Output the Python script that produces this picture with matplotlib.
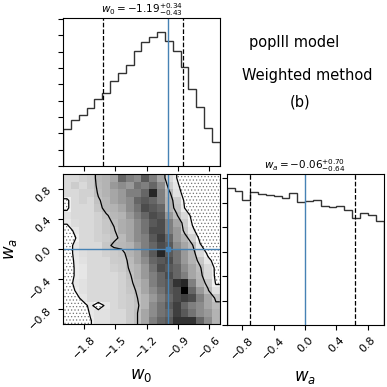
import numpy as np
import matplotlib.pyplot as plt
from matplotlib.colors import LinearSegmentedColormap
from matplotlib.ticker import MultipleLocator

plt.rcParams['hatch.color'] = '0.45'
plt.rcParams['hatch.linewidth'] = 0.5

# 参数范围和真值
w0_range = (-2.0, -0.5)
wa_range = (-1.0, 1.0)
n_bins = 20
w0_true = -1.0
wa_true = 0.0

# 一维直方图（读图估计，任意单位）
w0_hist = [114, 140, 156, 177, 205, 223, 259, 283, 310, 351,
           380, 394, 411, 381, 352, 302, 235, 181, 116, 73]
wa_hist = [414, 405, 377, 403, 396, 392, 391, 385, 400, 372,
           375, 379, 361, 358, 361, 347, 323, 338, 331, 315]

# 分位数 (16%, 84%)
w0_q = [-1.62, -0.85]
wa_q = [-0.70, 0.64]
w0_title = r'$w_0 = -1.19^{+0.34}_{-0.43}$'
wa_title = r'$w_a = -0.06^{+0.70}_{-0.64}$'

w0_ticks = [-1.8, -1.5, -1.2, -0.9, -0.6]
wa_ticks = [-0.8, -0.4, 0.0, 0.4, 0.8]

# 二维密度（行从 wa=1 到 wa=-1，列从 w0=-2 到 -0.5）
dens = np.array([
    [1.5, 1.5, 1.8, 2.0, 2.8, 3.0, 3.5, 6.0, 5.0, 4.5, 6.5, 5.0, 3.5, 1.5, 0.8, 0.2, 0.2, 0.2, 0.2, 0.2],
    [1.5, 2.0, 1.5, 2.0, 2.7, 3.0, 4.0, 4.5, 4.0, 5.5, 5.0, 6.0, 4.5, 2.0, 1.0, 0.3, 0.2, 0.2, 0.2, 0.2],
    [1.5, 1.5, 1.8, 1.8, 2.6, 3.0, 3.5, 4.0, 5.0, 5.0, 6.0, 8.5, 5.0, 2.8, 1.2, 0.5, 0.2, 0.2, 0.2, 0.2],
    [0.6, 1.5, 1.8, 1.5, 2.4, 2.8, 3.5, 4.0, 4.5, 6.0, 6.5, 6.0, 5.0, 3.0, 2.0, 0.65, 0.2, 0.2, 0.2, 0.2],
    [0.6, 1.5, 1.5, 1.5, 2.2, 2.8, 3.0, 3.5, 4.5, 5.5, 7.0, 6.5, 6.0, 3.0, 2.2, 0.8, 0.2, 0.2, 0.2, 0.2],
    [1.2, 1.5, 1.5, 1.5, 1.8, 2.4, 2.8, 3.0, 4.0, 5.0, 6.0, 7.0, 6.5, 4.0, 2.6, 1.5, 0.5, 0.2, 0.2, 0.2],
    [0.9, 1.4, 1.5, 1.5, 1.8, 2.2, 2.6, 3.2, 3.5, 4.5, 5.5, 6.5, 7.0, 5.0, 3.5, 2.0, 0.7, 0.2, 0.2, 0.2],
    [0.3, 1.0, 1.5, 1.5, 1.8, 2.2, 2.4, 3.2, 3.5, 4.5, 5.5, 7.0, 7.0, 5.0, 4.0, 2.2, 1.0, 0.3, 0.2, 0.2],
    [0.3, 0.7, 1.5, 1.5, 1.8, 2.0, 2.3, 2.7, 3.5, 4.5, 5.0, 6.5, 7.5, 6.0, 4.0, 3.0, 1.8, 0.5, 0.2, 0.2],
    [0.3, 1.0, 1.5, 1.5, 1.5, 2.2, 2.7, 2.8, 3.0, 4.0, 5.0, 6.0, 7.0, 6.5, 4.5, 3.5, 2.6, 0.9, 0.3, 0.2],
    [0.3, 1.0, 1.3, 1.5, 1.5, 1.8, 2.0, 2.2, 3.0, 3.5, 5.0, 6.5, 8.5, 6.5, 5.5, 4.0, 3.0, 1.5, 0.6, 0.3],
    [0.3, 0.9, 1.2, 1.5, 1.5, 1.5, 2.0, 2.1, 2.7, 3.5, 4.5, 6.0, 6.5, 7.0, 5.5, 4.0, 3.0, 2.2, 1.0, 0.5],
    [0.3, 0.85, 1.0, 1.5, 1.5, 1.5, 1.8, 2.0, 2.6, 3.0, 4.0, 5.5, 7.0, 6.5, 6.0, 4.5, 3.5, 2.6, 1.5, 0.6],
    [0.3, 0.85, 1.0, 1.5, 1.5, 1.5, 1.5, 1.8, 2.4, 3.0, 4.0, 5.0, 6.0, 7.0, 6.0, 5.0, 3.5, 2.8, 1.6, 0.6],
    [0.3, 1.0, 1.2, 1.5, 1.5, 1.5, 1.5, 1.8, 2.3, 2.8, 3.5, 5.0, 6.0, 6.5, 8.0, 8.5, 5.0, 3.0, 2.2, 0.7],
    [0.3, 0.8, 1.2, 1.5, 1.5, 1.5, 1.5, 1.8, 2.2, 2.6, 3.5, 4.5, 5.5, 6.5, 7.0, 10.0, 6.0, 4.0, 2.6, 1.2],
    [0.3, 0.5, 1.0, 1.5, 1.5, 1.5, 1.5, 1.8, 2.0, 2.5, 3.0, 4.0, 5.0, 6.0, 7.0, 7.5, 7.0, 5.0, 3.5, 2.3],
    [0.3, 0.3, 0.5, 1.0, 0.3, 1.0, 1.5, 1.8, 2.0, 2.4, 3.0, 4.5, 5.5, 6.5, 7.5, 6.0, 5.0, 4.5, 3.5, 2.7],
    [0.3, 0.3, 0.3, 0.9, 1.2, 1.2, 1.5, 1.5, 2.0, 2.5, 3.5, 4.5, 5.5, 6.0, 7.5, 6.5, 5.5, 4.5, 4.0, 3.0],
    [0.3, 0.3, 0.3, 0.75, 1.2, 1.2, 1.5, 1.5, 2.0, 2.5, 3.5, 5.0, 6.0, 6.5, 8.0, 8.0, 8.0, 6.0, 4.5, 3.0],
])
levels = [0.8, 2.5]

truth_color = '#4682b4'
tick_fs = 8

w0_edges = np.linspace(w0_range[0], w0_range[1], n_bins + 1)
wa_edges = np.linspace(wa_range[0], wa_range[1], n_bins + 1)

fig = plt.figure(figsize=(3.87, 3.87), dpi=100)
ax1 = fig.add_axes([0.163, 0.571, 0.405, 0.382])
ax2 = fig.add_axes([0.163, 0.162, 0.405, 0.388])
ax3 = fig.add_axes([0.586, 0.159, 0.405, 0.391])

# 上方 w0 直方图
ax1.stairs(w0_hist, w0_edges, color='0.2', lw=1.0)
for q in w0_q:
    ax1.axvline(q, color='k', ls='--', lw=0.9)
ax1.axvline(w0_true, color=truth_color, lw=1.0)
ax1.set_xlim(*w0_range)
ax1.set_ylim(0, 1.1 * max(w0_hist))
ax1.set_xticks(w0_ticks)
ax1.set_xticklabels([])
ax1.yaxis.set_major_locator(MultipleLocator(50))
ax1.set_yticklabels([])
ax1.set_title(w0_title, fontsize=7.5, pad=-2.5)

# 二维分布
cmap = LinearSegmentedColormap.from_list('dens', ['white', 'black'])
ax2.pcolormesh(w0_edges, wa_edges, dens[::-1], cmap=cmap, vmin=0, vmax=10)
xc = 0.5 * (w0_edges[1:] + w0_edges[:-1])
yc = 0.5 * (wa_edges[1:] + wa_edges[:-1])
xp = np.concatenate([[w0_edges[0]], xc, [w0_edges[-1]]])
yp = np.concatenate([[wa_edges[0]], yc, [wa_edges[-1]]])
Z = np.pad(dens[::-1], 1, mode='edge')
ax2.contourf(xp, yp, Z, levels=[-1, levels[0]], colors='white', hatches=['.....'])
ax2.contour(xp, yp, Z, levels=levels, colors='k', linewidths=0.9)
ax2.axvline(w0_true, color=truth_color, lw=1.0)
ax2.axhline(wa_true, color=truth_color, lw=1.0)
ax2.plot(w0_true, wa_true, 's', color=truth_color, ms=3)
ax2.set_xlim(*w0_range)
ax2.set_ylim(*wa_range)
ax2.set_xticks(w0_ticks)
ax2.set_yticks(wa_ticks)
for lab in ax2.get_xticklabels() + ax2.get_yticklabels():
    lab.set_rotation(45)
    lab.set_fontsize(tick_fs)
ax2.set_xlabel('$w_0$', fontsize=12)
ax2.set_ylabel('$w_a$', fontsize=12)
ax2.xaxis.set_label_coords(0.5, -0.28)
ax2.yaxis.set_label_coords(-0.28, 0.5)

# 右侧 wa 直方图
ax3.stairs(wa_hist, wa_edges, color='0.2', lw=1.0)
for q in wa_q:
    ax3.axvline(q, color='k', ls='--', lw=0.9)
ax3.axvline(wa_true, color=truth_color, lw=1.0)
ax3.set_xlim(*wa_range)
ax3.set_ylim(0, 1.1 * max(wa_hist))
ax3.set_xticks(wa_ticks)
for lab in ax3.get_xticklabels():
    lab.set_rotation(45)
    lab.set_fontsize(tick_fs)
ax3.yaxis.set_major_locator(MultipleLocator(74))
ax3.set_yticklabels([])
ax3.set_title(wa_title, fontsize=7.5, pad=-2.5)
ax3.set_xlabel('$w_a$', fontsize=12)
ax3.xaxis.set_label_coords(0.5, -0.28)

# 注释文字
fig.text(0.76, 0.889, 'popIII model', fontsize=10.5, ha='center', va='center')
fig.text(0.795, 0.806, 'Weighted method', fontsize=10.5, ha='center', va='center')
fig.text(0.775, 0.736, '(b)', fontsize=10.5, ha='center', va='center')

fig.savefig('out.png', dpi=100)
